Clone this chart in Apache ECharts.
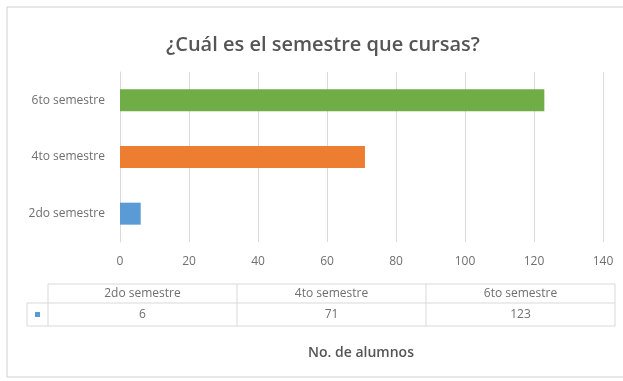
<!DOCTYPE html>
<html>
<head>
<meta charset="utf-8">
<script src="https://cdn.jsdelivr.net/npm/echarts@6/dist/echarts.min.js"></script>
<style>
html,body{margin:0;padding:0;background:#fff;}
#c{width:623px;height:381px;}
</style>
</head>
<body>
<div id="c"></div>
<script>
const titleText = '¿Cuál es el semestre que cursas?';
const categories = ['2do semestre', '4to semestre', '6to semestre'];
const values = [6, 71, 123];
const barColors = ['#5B9BD5', '#ED7D31', '#70AD47'];
const xTicks = [0, 20, 40, 60, 80, 100, 120, 140];
const axisTitle = 'No. de alumnos';

const chart = echarts.init(document.getElementById('c'), null, {renderer: 'canvas'});

const txtColor = '#6f6f6f';
const lineColor = '#d9d9d9';
const font = '"Open Sans", sans-serif';

// data table built from arrays
const tblLeft = 48, tblRight = 615, rowTop = 284, rowMid = 303, rowBot = 326, keyLeft = 27;
const colW = (tblRight - tblLeft) / categories.length;
const graphics = [];
graphics.push({type: 'rect', shape: {x: 7, y: 7, width: 640, height: 370}, style: {fill: 'none', stroke: '#d0d0d0', lineWidth: 1}, silent: true});
graphics.push({type: 'text', x: 323, y: 45, style: {text: titleText, fill: '#555', font: '600 20px ' + font, align: 'center', verticalAlign: 'middle'}});
graphics.push({type: 'line', shape: {x1: tblLeft, y1: rowTop, x2: tblRight, y2: rowTop}, style: {stroke: lineColor}});
graphics.push({type: 'line', shape: {x1: keyLeft, y1: rowMid, x2: tblRight, y2: rowMid}, style: {stroke: lineColor}});
graphics.push({type: 'line', shape: {x1: keyLeft, y1: rowBot, x2: tblRight, y2: rowBot}, style: {stroke: lineColor}});
graphics.push({type: 'line', shape: {x1: keyLeft, y1: rowMid, x2: keyLeft, y2: rowBot}, style: {stroke: lineColor}});
for (let i = 0; i <= categories.length; i++) {
  const x = tblLeft + i * colW;
  graphics.push({type: 'line', shape: {x1: x, y1: rowTop, x2: x, y2: rowBot}, style: {stroke: lineColor}});
}
categories.forEach((c, i) => {
  const cx = tblLeft + (i + 0.5) * colW;
  graphics.push({type: 'text', x: cx, y: (rowTop + rowMid) / 2, style: {text: c, fill: txtColor, font: '12px ' + font, align: 'center', verticalAlign: 'middle'}});
  graphics.push({type: 'text', x: cx, y: (rowMid + rowBot) / 2, style: {text: String(values[i]), fill: txtColor, font: '12px ' + font, align: 'center', verticalAlign: 'middle'}});
});
graphics.push({type: 'rect', shape: {x: 35, y: 312, width: 5, height: 5}, style: {fill: barColors[0]}});
graphics.push({type: 'text', x: 361, y: 353, style: {text: axisTitle, fill: '#555', font: '600 14px ' + font, align: 'center', verticalAlign: 'middle'}});

chart.setOption({
  animation: false,
  backgroundColor: '#fff',
  grid: {left: 120, right: 20, top: 72, height: 170, containLabel: false},
  xAxis: {
    type: 'value', min: xTicks[0], max: xTicks[xTicks.length - 1], interval: xTicks[1] - xTicks[0],
    axisLine: {show: false}, axisTick: {show: false},
    splitLine: {lineStyle: {color: lineColor}},
    axisLabel: {color: txtColor, fontSize: 12, fontFamily: font, margin: 14}
  },
  yAxis: {
    type: 'category', data: categories,
    axisLine: {show: true, lineStyle: {color: lineColor}}, axisTick: {show: false},
    axisLabel: {color: txtColor, fontSize: 12, fontFamily: font, margin: 15}
  },
  series: [{
    type: 'bar', barWidth: 22,
    data: values.map((v, i) => ({value: v, itemStyle: {color: barColors[i]}}))
  }],
  graphic: graphics
});
</script>
</body>
</html>
